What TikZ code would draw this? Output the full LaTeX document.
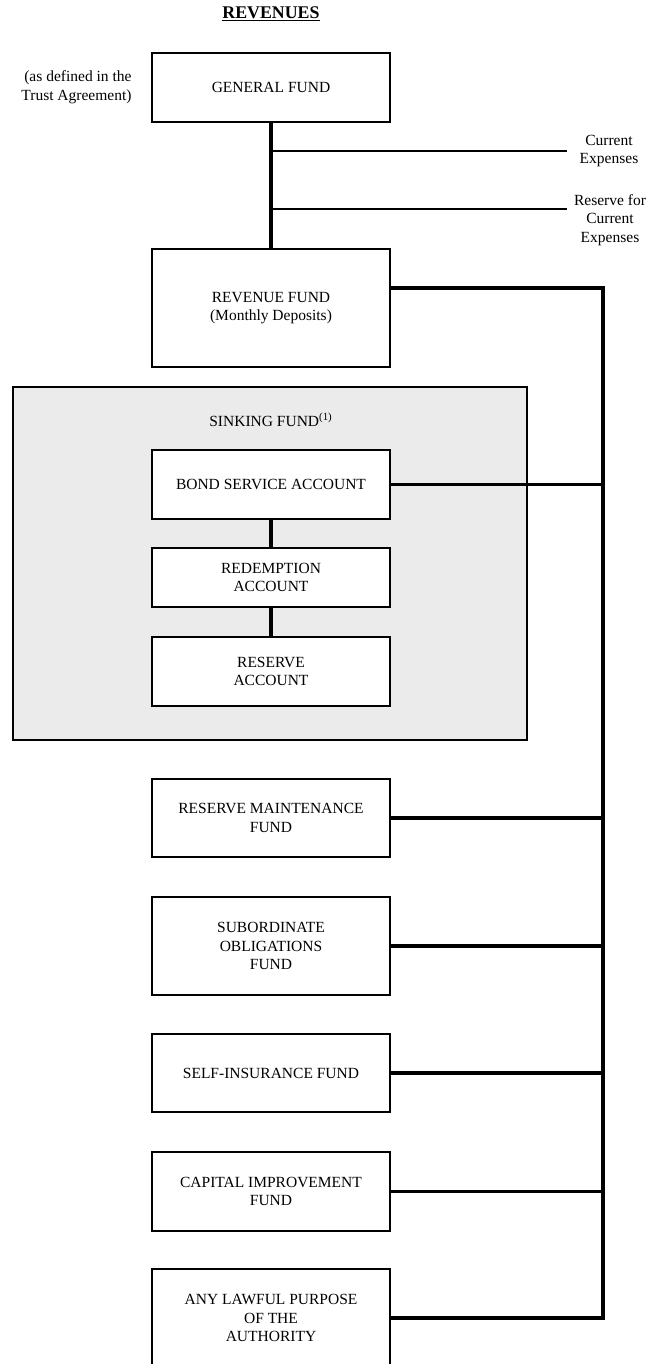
\documentclass[tikz,border=0pt]{standalone}
\usepackage{fontspec}
\setmainfont{Liberation Serif}
\definecolor{sinkgray}{HTML}{EBEBEB}

\begin{document}
\begin{tikzpicture}[x=0.645pt, y=-0.645pt,
   box/.style={draw, rectangle, line width=1.3pt, fill=white,
     minimum width=153.5pt, align=center},
   feed/.style={line width=2.6pt},
   tap/.style={line width=1.6pt},
   busline/.style={line width=2.3pt}]
\useasboundingbox (0,0) rectangle (650,1364);

\node[font=\fontsize{11.5}{14}\selectfont\bfseries] (T) at (271,14) 
  {\underline{REVENUES}};

\node[anchor=east, align=right] (TA) at (137,87.5) 
  {(as defined in the\\Trust Agreement)};

\node[box, 
   minimum height=44.5pt] (G) at (271,87.5) 
  {GENERAL FUND};
\node[box, 
   minimum height=76.1pt] (R) at (271,308) 
  {REVENUE FUND\\(Monthly Deposits)};

\node[draw, fill=sinkgray, line width=1.3pt, 
   minimum width=331.5pt, 
   minimum height=227.7pt] (S) at (270,563.5) {};
\node (SL) at (271,420) 
  {SINKING FUND\textsuperscript{(1)}};

\node[box, 
   minimum height=44.5pt] (B) at (271,484.5) 
  {BOND SERVICE ACCOUNT};
\node[box, 
   minimum height=38.1pt] (D) at (271,577.5) 
  {REDEMPTION\\ACCOUNT};
\node[box, 
   minimum height=44.5pt] (V) at (271,671.5) 
  {RESERVE\\ACCOUNT};

\node[box, 
   minimum height=50.3pt] (M) at (271,818) 
  {RESERVE MAINTENANCE\\FUND};
\node[box, 
   minimum height=63.2pt] (O) at (271,946) 
  {SUBORDINATE\\OBLIGATIONS\\FUND};
\node[box, 
   minimum height=50.3pt] (I) at (271,1073) 
  {SELF-INSURANCE FUND};
\node[box, 
   minimum height=51pt] (C) at (271,1191.5) 
  {CAPITAL IMPROVEMENT\\FUND};
\node[box, 
   minimum height=63.2pt] (L) at (271,1318) 
  {ANY LAWFUL PURPOSE\\OF THE\\AUTHORITY};

\node[align=center] (CE) at (609,151) 
  {Current\\Expenses};
\node[align=center] (RCE) at (610,220) 
  {Reserve for\\Current\\Expenses};

\coordinate (e1) at (567,151);
\coordinate (e2) at (567,209);
\coordinate (top) at (603,288);
\coordinate (bot) at (603,1318);

\draw[feed] (G) -- (R);
\draw[tap] (G.south |- e1) -- (e1);
\draw[tap] (G.south |- e2) -- (e2);

\draw[feed] (B) -- (D);
\draw[feed] (D) -- (V);

\draw[busline] (R.east |- top) -| (bot) -- (L.east);
\foreach \n in {B,M,O,I,C}
  \draw[busline] (\n.east) -- (\n.east -| top);
\end{tikzpicture}
\end{document}
